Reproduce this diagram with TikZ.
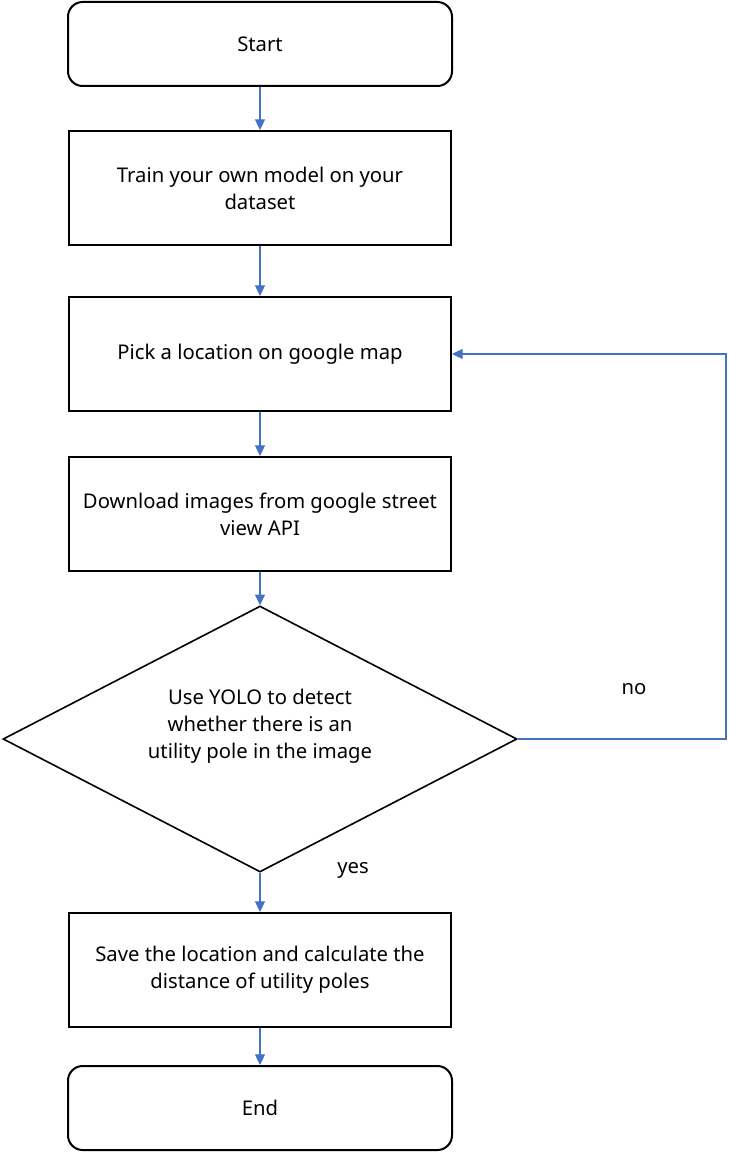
\documentclass[tikz,border=0pt]{standalone}
\usepackage{fontspec}
\setmainfont{Noto Sans}
\usetikzlibrary{arrows.meta,shapes.geometric}
\definecolor{flowblue}{HTML}{4472C4}
\tikzset{
	stepbox/.style={draw,line width=1.5pt,minimum width=382*0.75pt,minimum height=114*0.75pt,align=center,inner sep=0pt},
	termbox/.style={stepbox,rounded corners=11pt,minimum width=384*0.75pt,minimum height=84*0.75pt},
	decbox/.style={draw,diamond,line width=1.2pt,minimum width=514*0.75pt,minimum height=266*0.75pt,inner sep=0pt},
	flow/.style={flowblue,line width=0.8pt,-{Triangle[width=7.5pt,length=8pt]}}
}
\begin{document}
\begin{tikzpicture}[x=0.75pt,y=-0.75pt,font=\fontsize{15.2pt}{20.3pt}\selectfont,line join=miter]
		\useasboundingbox (0,0) rectangle (728,1152);
		\node[termbox] (start) at (260,44) {Start};
		\node[stepbox] (train) at (260,188) {Train your own model on your\\dataset};
		\node[stepbox] (pick) at (260,354) {Pick a location on google map};
		\node[stepbox] (down) at (260,514) {Download images from google street\\view API};
		\node[decbox] (yolo) at (260,739) {};
		% text sits a bit above the middle of the diamond
		\node[align=center] (yolotext) at (260,726) {Use YOLO to detect\\whether there is an\\utility pole in the image};
		\node[stepbox] (save) at (260,970) {Save the location and calculate the\\distance of utility poles};
		\node[termbox] (end) at (260,1108) {End};
		\coordinate (c1) at (726,739);
		\coordinate (c2) at (726,354);
		\draw[flow] (start) -- (train);
		\draw[flow] (train) -- (pick);
		\draw[flow] (pick) -- (down);
		\draw[flow] (down) -- (yolo);
		\draw[flow] (yolo) -- (save);
		\draw[flow] (save) -- (end);
		\draw[flow] (yolo.east) -- (c1) -- (c2) -- (pick.east);
		\node (no) at (634,689) {no};
		\node (yes) at (353,870) {yes};
	\end{tikzpicture}
\end{document}
